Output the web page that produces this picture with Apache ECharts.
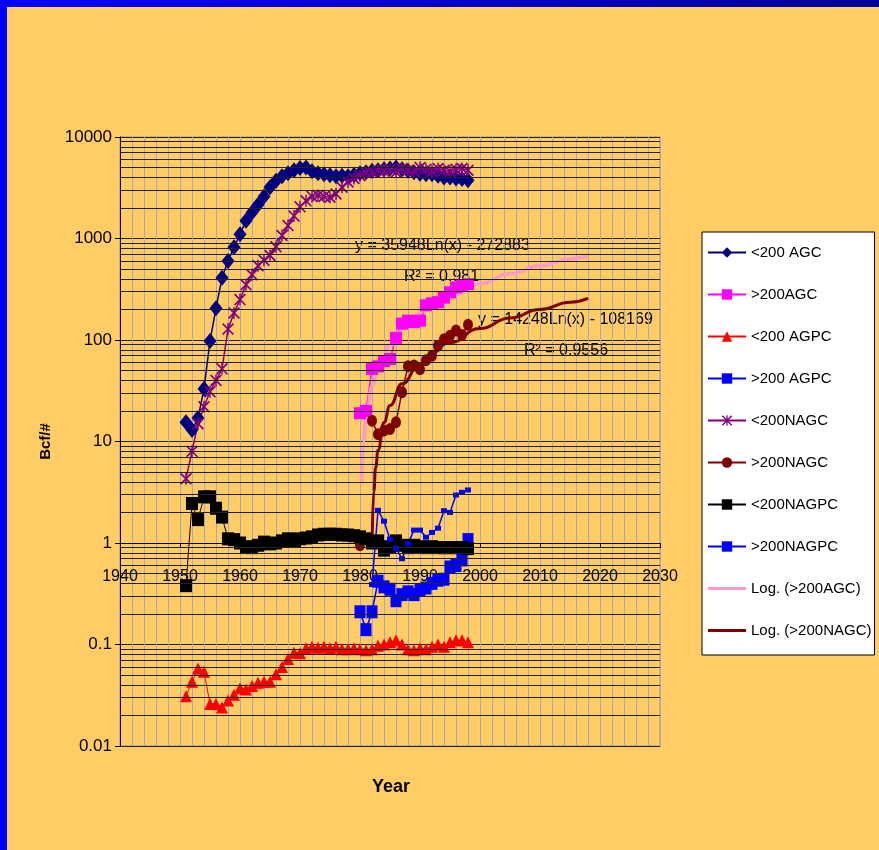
<!DOCTYPE html>
<html>
<head>
<meta charset="utf-8">
<script src="https://cdn.jsdelivr.net/npm/echarts@6/dist/echarts.min.js"></script>
<style>
html, body { margin: 0; padding: 0; background: #FFCC66; }
#main { position: absolute; left: 0; top: 0; width: 879px; height: 850px; }
#topbar { position: absolute; left: 0; top: 0; width: 879px; height: 7px; background: linear-gradient(to right, #0000ff, #000099); }
#leftbar { position: absolute; left: 0; top: 0; width: 7px; height: 850px; background: #0000ff; }
</style>
</head>
<body>
<div id="main"></div>
<div id="topbar"></div>
<div id="leftbar"></div>
<script>
// years of the long series
const yearsLong = [1951, 1952, 1953, 1954, 1955, 1956, 1957, 1958, 1959, 1960,
	1961, 1962, 1963, 1964, 1965, 1966, 1967, 1968, 1969, 1970,
	1971, 1972, 1973, 1974, 1975, 1976, 1977, 1978, 1979, 1980,
	1981, 1982, 1983, 1984, 1985, 1986, 1987, 1988, 1989, 1990,
	1991, 1992, 1993, 1994, 1995, 1996, 1997, 1998]
// years of the short series
const yearsShort = [1980, 1981, 1982, 1983, 1984, 1985, 1986, 1987, 1988, 1989,
	1990, 1991, 1992, 1993, 1994, 1995, 1996, 1997, 1998]
const yearsNagpc = [1982, 1983, 1984, 1985, 1986, 1987, 1988, 1989, 1990,
	1991, 1992, 1993, 1994, 1995, 1996, 1997, 1998]

const lt200AGC = [15.5, 13, 17, 33, 98, 205, 410, 600, 820, 1100,
	1500, 1800, 2150, 2600, 3200, 3700, 4100, 4400, 4700, 4950,
	5000, 4600, 4400, 4300, 4200, 4100, 4150, 4100, 4250, 4400,
	4500, 4650, 4700, 4800, 4900, 5000, 4800, 4650, 4500, 4350,
	4300, 4300, 4150, 4000, 4000, 3900, 3850, 3750]
const lt200NAGC = [4.3, 8, 15, 22, 31, 40, 52, 128, 185, 250,
	350, 440, 540, 610, 680, 830, 1070, 1340, 1670, 2050,
	2350, 2600, 2650, 2600, 2550, 2750, 3200, 3600, 3900, 4150,
	4450, 4500, 4700, 4600, 4800, 4500, 4900, 4700, 4600, 5000,
	4800, 4600, 4900, 4700, 4600, 4800, 4900, 4700]
const lt200AGPC = [0.031, 0.043, 0.058, 0.054, 0.026, 0.026, 0.024, 0.028, 0.032, 0.037,
	0.036, 0.039, 0.042, 0.043, 0.043, 0.051, 0.06, 0.072, 0.083, 0.082,
	0.092, 0.095, 0.093, 0.095, 0.092, 0.095, 0.09, 0.09, 0.092, 0.09,
	0.088, 0.09, 0.097, 0.1, 0.105, 0.11, 0.1, 0.09, 0.088, 0.092,
	0.09, 0.095, 0.1, 0.095, 0.105, 0.11, 0.11, 0.105]
const lt200NAGPC = [0.38, 2.45, 1.7, 2.85, 2.85, 2.2, 1.8, 1.1, 1.08, 1.0,
	0.92, 0.9, 0.95, 1.02, 0.98, 1.0, 1.05, 1.1, 1.05, 1.1,
	1.12, 1.15, 1.2, 1.22, 1.22, 1.22, 1.2, 1.2, 1.18, 1.15,
	1.1, 1.0, 1.05, 0.85, 0.92, 1.05, 0.95, 0.9, 0.95, 0.92,
	0.9, 0.92, 0.9, 0.9, 0.9, 0.9, 0.9, 0.88]

const gt200AGC = [19, 20, 52, 55, 62, 65, 105, 145, 155, 150,
	155, 220, 230, 236, 262, 295, 330, 345, 355]
const gt200NAGC = [0.95, null, 16, 11.8, 12.8, 13.3, 15.5, 30.6, 55, 56,
	51.5, 63, 70, 88, 102, 110, 124, 112, 141]
const gt200AGPC = [0.21, 0.14, 0.21, 0.42, 0.37, 0.35, 0.27, 0.31, 0.33, 0.31,
	0.34, 0.36, 0.40, 0.43, 0.44, 0.58, 0.60, 0.68, 1.08]
const gt200NAGPC = [0.39, 2.1, 1.64, 1.09, 0.89, 0.70, 0.98, 1.34, 1.34,
	1.14, 1.27, 1.4, 2.08, 2.0, 2.97, 3.16, 3.33]

// trend lines
const trendAGCx = [1980.3, 1980.6, 1981, 1982, 1983, 1985, 1988, 1991, 1995, 2000, 2005, 2010, 2015, 2018]
const trendAGCy = [4, 10, 17, 35, 53, 89, 144, 198, 270, 360, 450, 539, 628, 682]
const trendNAGCx = [1982, 1982.3, 1982.6, 1983, 1984, 1985, 1987, 1990, 1995, 2000, 2005, 2010, 2015, 2018]
const trendNAGCy = [0.9, 3.2, 5.5, 8.2, 15.4, 22.6, 37, 58, 94, 130, 165, 200, 236, 257]

// minor horizontal gridlines
const decades = [0.01, 0.1, 1, 10, 100, 1000]
const minorSteps = [2, 3, 4, 5, 6, 7, 8, 9]

const barIcon = 'path://M0,0L40,0L40,3L0,3Z'
const legendNames = ['<200 AGC', '>200AGC', '<200 AGPC', '>200 AGPC', '<200NAGC',
	'>200NAGC', '<200NAGPC', '>200NAGPC',
	{ name: 'Log. (>200AGC)', icon: barIcon },
	{ name: 'Log. (>200NAGC)', icon: barIcon }]

const FONT = '"Liberation Sans", Arial, sans-serif'
const pair = (xs, ys) => xs.map((x, i) => [x, ys[i]])
const asterisk = 'path://M0,1L1,0L10,9L9,10ZM9,0L10,1L1,10L0,9ZM4.4,0L5.6,0L5.6,10L4.4,10Z'

const minorLines = []
decades.forEach(d => minorSteps.forEach(s => minorLines.push({ yAxis: +(d * s).toPrecision(3) })))

const lineSeries = (name, data, color, symbol, size, width) => ({
	name: name,
	type: 'line',
	data: data,
	symbol: symbol,
	symbolSize: size,
	showAllSymbol: true,
	itemStyle: { color: color },
	lineStyle: { color: color, width: width }
})

let myChart = echarts.init(document.getElementById('main'))
let option = {
	animation: false,
	backgroundColor: '#FFCC66',
	textStyle: { fontFamily: FONT },
	grid: { left: 120, right: 219, top: 137, bottom: 104, show: true, borderColor: '#999', borderWidth: 1 },
	legend: {
		data: legendNames,
		orient: 'vertical',
		left: 702,
		top: 232,
		itemWidth: 38,
		itemHeight: 13,
		itemGap: 25,
		padding: [12, 3, 16, 5],
		backgroundColor: '#fff',
		borderColor: '#000',
		borderWidth: 1,
		borderRadius: 0,
		selectedMode: false,
		textStyle: { color: '#000', fontSize: 15, fontFamily: FONT, lineHeight: 17 }
	},
	xAxis: {
		type: 'value',
		min: 1940,
		max: 2030,
		interval: 10,
		offset: -203,
		axisLine: { onZero: false, lineStyle: { color: '#000', width: 1 } },
		axisTick: { show: true, length: 5, lineStyle: { color: '#000' } },
		axisLabel: { color: '#000', fontSize: 16, fontFamily: FONT, margin: 26, formatter: v => String(v) },
		splitLine: { show: true, lineStyle: { color: '#a8a8b8', width: 1 } },
		minorTick: { show: false, splitNumber: 5 },
		minorSplitLine: { show: true, lineStyle: { color: '#a8a8b8', width: 1 } }
	},
	yAxis: {
		type: 'log',
		logBase: 10,
		min: 0.01,
		max: 10000,
		splitNumber: 6,
		name: 'Bcf/#',
		nameLocation: 'middle',
		nameRotate: 90,
		nameGap: 66,
		nameTextStyle: { color: '#000', fontSize: 15, fontWeight: 'bold', fontFamily: FONT },
		axisLine: { show: true, lineStyle: { color: '#000', width: 1 } },
		axisTick: { show: true, length: 5, lineStyle: { color: '#000' } },
		axisLabel: { color: '#000', fontSize: 17, fontFamily: FONT, margin: 8, formatter: v => String(+v.toPrecision(6)) },
		splitLine: { show: true, lineStyle: { color: '#222', width: 1 } }
	},
	graphic: [
		{ type: 'text', left: 355, top: 238, style: { text: 'y = 35948Ln(x) - 272883', font: '16px ' + FONT, fill: '#000' } },
		{ type: 'text', left: 404, top: 269, style: { text: 'R² = 0.981', font: '16px ' + FONT, fill: '#000' } },
		{ type: 'text', left: 478, top: 312, style: { text: 'y = 14248Ln(x) - 108169', font: '16px ' + FONT, fill: '#000' } },
		{ type: 'text', left: 524, top: 343, style: { text: 'R² = 0.9556', font: '16px ' + FONT, fill: '#000' } },
		{ type: 'text', left: 372, top: 778, style: { text: 'Year', font: 'bold 18px ' + FONT, fill: '#000' } }
	],
	series: [
		{
			name: 'minor',
			type: 'line',
			data: [],
			silent: true,
			markLine: {
				silent: true,
				symbol: ['none', 'none'],
				label: { show: false },
				lineStyle: { color: '#222', width: 1, type: 'solid' },
				data: minorLines
			}
		},
		lineSeries('<200 AGC', pair(yearsLong, lt200AGC), '#000080', 'diamond', [13, 16], 1.5),
		lineSeries('>200AGC', pair(yearsShort, gt200AGC), '#FF00FF', 'rect', [12, 12], 1.5),
		lineSeries('<200 AGPC', pair(yearsLong, lt200AGPC), '#FF0000', 'triangle', [12, 12], 1),
		lineSeries('>200 AGPC', pair(yearsShort, gt200AGPC), '#0000FF', 'rect', [11, 13], 1.5),
		lineSeries('<200NAGC', pair(yearsLong, lt200NAGC), '#800080', asterisk, [12, 12], 1.5),
		lineSeries('>200NAGC', pair(yearsShort, gt200NAGC), '#800000', 'circle', [10, 12], 1.5),
		lineSeries('<200NAGPC', pair(yearsLong, lt200NAGPC), '#000000', 'rect', [12, 13], 1),
		lineSeries('>200NAGPC', pair(yearsNagpc, gt200NAGPC), '#0000FF', 'rect', [6, 5], 1.5),
		{
			name: 'Log. (>200AGC)',
			type: 'line',
			data: pair(trendAGCx, trendAGCy),
			symbol: 'none',
			smooth: true,
			smoothMonotone: 'x',
			itemStyle: { color: '#FF99CC' },
			lineStyle: { color: '#FF99CC', width: 3.5 }
		},
		{
			name: 'Log. (>200NAGC)',
			type: 'line',
			data: pair(trendNAGCx, trendNAGCy),
			symbol: 'none',
			smooth: true,
			smoothMonotone: 'x',
			itemStyle: { color: '#800000' },
			lineStyle: { color: '#800000', width: 3 }
		}
	]
}
myChart.setOption(option)
</script>
</body>
</html>
